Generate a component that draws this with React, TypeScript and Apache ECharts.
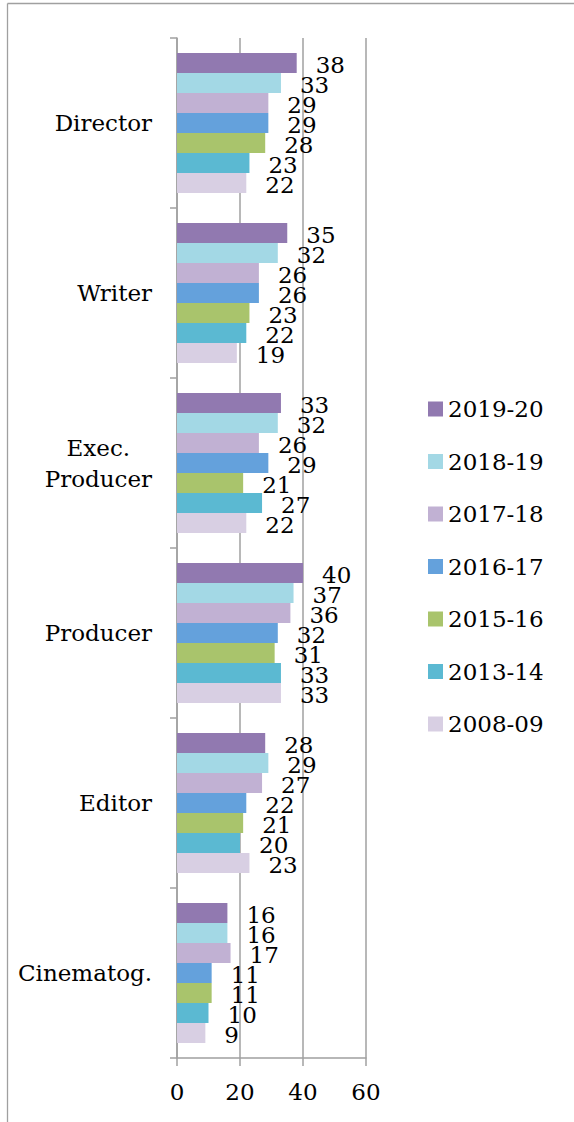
import React, { useEffect, useRef } from "react";
import * as echarts from "echarts";

const categories = ["Director", "Writer", "Exec.\nProducer", "Producer", "Editor", "Cinematog."];
const seriesNames = ["2019-20", "2018-19", "2017-18", "2016-17", "2015-16", "2013-14", "2008-09"];
const v2019_20 = [38, 35, 33, 40, 28, 16];
const v2018_19 = [33, 32, 32, 37, 29, 16];
const v2017_18 = [29, 26, 26, 36, 27, 17];
const v2016_17 = [29, 26, 29, 32, 22, 11];
const v2015_16 = [28, 23, 21, 31, 21, 11];
const v2013_14 = [23, 22, 27, 33, 20, 10];
const v2008_09 = [22, 19, 22, 33, 23, 9];
const xTicks = [0, 20, 40, 60];

const seriesValues = [v2019_20, v2018_19, v2017_18, v2016_17, v2015_16, v2013_14, v2008_09];
const colors = ["#9179b0", "#a3d8e5", "#c1b1d3", "#64a1dc", "#a9c46c", "#5bb9d2", "#d8cfe3"];

const FONT = "DejaVu Serif";
const GRAY = "#a0a0a0";

export default function App() {
  const ref = useRef<HTMLDivElement>(null);
  useEffect(() => {
    if (!ref.current) return;
    const chart = echarts.init(ref.current, null, { renderer: "svg" });
    chart.setOption({
      animation: false,
      backgroundColor: "#ffffff",
      graphic: [
        { type: "line", shape: { x1: 7.5, y1: 3.5, x2: 574, y2: 3.5 }, style: { stroke: GRAY, lineWidth: 1.3 } },
        { type: "line", shape: { x1: 7.5, y1: 3.5, x2: 7.5, y2: 1122 }, style: { stroke: GRAY, lineWidth: 1.3 } },
      ],
      grid: { left: 177, top: 38, width: 189, height: 1020, containLabel: false },
      legend: {
        orient: "vertical",
        left: 428,
        top: 397,
        padding: 0,
        itemWidth: 15,
        itemHeight: 15,
        itemGap: 28.5,
        icon: "rect",
        data: seriesNames,
        textStyle: { fontFamily: FONT, fontSize: 23, color: "#000", lineHeight: 24 },
      },
      xAxis: {
        type: "value",
        min: xTicks[0],
        max: xTicks[xTicks.length - 1],
        interval: 20,
        axisLine: { show: true, lineStyle: { color: GRAY, width: 1.5 } },
        axisTick: { show: true, length: 8, lineStyle: { color: GRAY, width: 1.5 } },
        splitLine: { show: true, lineStyle: { color: GRAY, width: 1.5 } },
        axisLabel: { margin: 22, fontFamily: FONT, fontSize: 23, color: "#000" },
      },
      yAxis: {
        type: "category",
        inverse: true,
        data: categories,
        axisLine: { show: true, lineStyle: { color: GRAY, width: 1.5 } },
        axisTick: { show: true, length: 7, lineStyle: { color: GRAY, width: 1.5 } },
        axisLabel: {
          margin: 25,
          fontFamily: FONT,
          fontSize: 23,
          color: "#000",
          lineHeight: 31,
          formatter: (v: string) => v.split("\n").map((s) => `{c|${s}}`).join("\n"),
          rich: { c: { align: "center", fontFamily: FONT, fontSize: 23, color: "#000", lineHeight: 31 } },
        },
      },
      series: seriesNames.map((name, i) => ({
        name,
        type: "bar",
        data: seriesValues[i],
        barGap: "0%",
        barCategoryGap: "17.65%",
        itemStyle: { color: colors[i] },
        label: {
          show: true,
          position: "right",
          distance: 19,
          offset: [0, 2],
          fontFamily: FONT,
          fontSize: 23,
          color: "#000",
        },
      })),
    });
    return () => chart.dispose();
  }, []);
  return <div ref={ref} style={{ position: "absolute", left: 0, top: 0, width: 574, height: 1122 }} />;
}
